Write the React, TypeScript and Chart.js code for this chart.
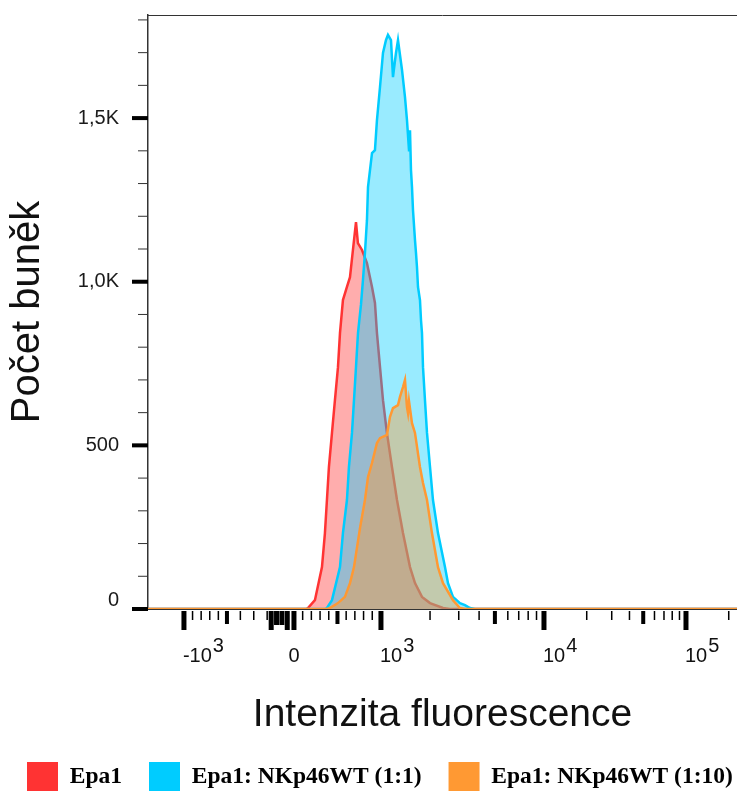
import React, { useEffect, useRef } from 'react';
import { Chart, registerables, LinearScale } from 'chart.js';

// ---------- data (fluorescence intensity vs. cell count) ----------
const RED_X = [138, 161, 241, 322, 356, 379, 402, 437, 471, 506, 529, 563, 609, 644, 678, 713, 735, 782, 839, 897, 931, 954, 989, 1029, 1088, 1168, 1254, 1365, 1507, 1617, 1785, 1999, 2402, 2650];
const RED_Y = [0, 3, 27, 128, 232, 333, 434, 538, 638, 739, 843, 944, 984, 1014, 1097, 1182, 1118, 1097, 1057, 984, 935, 843, 739, 638, 538, 434, 333, 232, 128, 79, 37, 18, 3, 0];

const BLUE_X = [356, 379, 437, 529, 563, 609, 632, 667, 690, 713, 736, 770, 793, 816, 839, 851, 897, 931, 954, 989, 1029, 1073, 1104, 1152, 1185, 1236, 1272, 1346, 1404, 1444, 1486, 1507, 1528, 1550, 1572, 1617, 1640, 1663, 1687, 1735, 1760, 1785, 1811, 1862, 1916, 1999, 2085, 2238, 2470, 2578, 2766, 3050, 3276, 3515, 3770];
const BLUE_Y = [0, 3, 27, 128, 232, 333, 434, 538, 638, 739, 843, 929, 1005, 1088, 1188, 1289, 1393, 1402, 1494, 1595, 1699, 1738, 1754, 1738, 1625, 1699, 1738, 1647, 1564, 1494, 1402, 1463, 1341, 1289, 1219, 1127, 1088, 1045, 984, 944, 883, 843, 739, 638, 538, 434, 333, 232, 128, 79, 37, 18, 12, 3, 0];

const ORANGE_X = [379, 414, 506, 586, 644, 690, 759, 816, 851, 897, 954, 989, 1088, 1136, 1185, 1272, 1308, 1365, 1404, 1444, 1465, 1486, 1550, 1617, 1735, 1811, 1916, 2055, 2238, 2402, 2766, 3050, 3276];
const ORANGE_Y = [0, 3, 18, 37, 79, 128, 247, 333, 403, 446, 507, 522, 532, 587, 614, 623, 648, 678, 700, 617, 599, 635, 568, 538, 434, 385, 333, 232, 128, 79, 27, 3, 0];

const SERIES_NAMES = ['Epa1', 'Epa1: NKp46WT (1:1)', 'Epa1: NKp46WT (1:10)'];

// axis ranges and ticks
const X_MIN = -1418;
const X_MAX = 228700;
const Y_MAX = 1815;
const Y_TICK_VALUES = [0, 100, 200, 300, 400, 500, 600, 700, 800, 900, 1000, 1100, 1200, 1300, 1400, 1500, 1600, 1700, 1800];
const Y_LABELS: Record<number, string> = { 0: '0', 500: '500', 1000: '1,0K', 1500: '1,5K' };
const X_MAJOR = [-1000, 0, 1000, 10000, 100000];
const X_MEDIUM = [-500, 500, 5000, 50000];
const X_MINOR = [-900, -800, -700, -600, -400, -300, -200, 100, 200, 300, 400, 600, 700, 800, 900, 2000, 3000, 4000, 6000, 7000, 8000, 9000, 20000, 30000, 40000, 60000, 70000, 80000, 90000, 200000];
const X_CLUSTER_LONG = [-170, -50];
const X_CLUSTER_MED = [-130, -90];
const X_LABELS: { v: number; base: string; exp: string }[] = [
  { v: -1000, base: '-10', exp: '3' },
  { v: 0, base: '0', exp: '' },
  { v: 1000, base: '10', exp: '3' },
  { v: 10000, base: '10', exp: '4' },
  { v: 100000, base: '10', exp: '5' },
];

// ---------- logicle-like display transform ----------
function T(v: number): number {
  if (v >= 10000) return 250 + 142 * Math.log10(v / 10000);
  if (v >= 1000) return 87 + 163 * Math.log10(v / 1000);
  if (v >= 0) return v * 0.087;
  if (v >= -500) return v * 0.134;
  return -67 + (v + 500) * 0.086;
}

class LogicleScale extends LinearScale {
  static id = 'logicle';
  getPixelForValue(value: number) {
    const a = T(this.min), b = T(this.max);
    return this.getPixelForDecimal((T(value) - a) / (b - a));
  }
}

Chart.register(...registerables, LogicleScale);

const SANS = "'Liberation Sans', Arial, sans-serif";
const SERIF = "'Liberation Serif', 'Times New Roman', serif";

const pts = (xs: number[], ys: number[]) => [
  { x: X_MIN, y: 0 },
  ...xs.map((x, i) => ({ x, y: ys[i] })),
  { x: X_MAX, y: 0 },
];

const noScalePadding = (s: any) => {
  s.paddingTop = 0;
  s.paddingBottom = 0;
  s.paddingLeft = 0;
  s.paddingRight = 0;
};

const decor = {
  id: 'decor',
  afterDraw(chart: any) {
    const { ctx, chartArea } = chart;
    const xs = chart.scales.x;
    const ys = chart.scales.y;
    ctx.save();
    // top frame line
    ctx.strokeStyle = '#333';
    ctx.lineWidth = 1;
    ctx.beginPath();
    ctx.moveTo(chartArea.left, chartArea.top + 0.5);
    ctx.lineTo(chartArea.right, chartArea.top + 0.5);
    ctx.stroke();
    // y tick marks
    for (const v of Y_TICK_VALUES) {
      const y = ys.getPixelForValue(v);
      if (Y_LABELS[v] !== undefined) {
        ctx.fillStyle = '#000';
        ctx.fillRect(chartArea.left - 16, y - 2, 16, 4);
      } else {
        ctx.fillStyle = '#333';
        ctx.fillRect(chartArea.left - 10, y - 0.5, 10, 1);
      }
    }
    // x tick marks
    ctx.fillStyle = '#000';
    const top = chartArea.bottom + 2;
    const tick = (v: number, w: number, len: number) => {
      const x = xs.getPixelForValue(v);
      ctx.fillRect(x - w / 2, top, w, len);
    };
    X_MAJOR.forEach((v) => tick(v, 5, 19));
    X_MEDIUM.forEach((v) => tick(v, 4, 13));
    X_MINOR.forEach((v) => tick(v, 1.5, 9));
    X_CLUSTER_LONG.forEach((v) => tick(v, 5, 19));
    X_CLUSTER_MED.forEach((v) => tick(v, 5, 14));
    // x tick labels
    ctx.fillStyle = '#111';
    ctx.font = `20px ${SANS}`;
    ctx.textBaseline = 'alphabetic';
    const baseY = chartArea.bottom + 53;
    for (const l of X_LABELS) {
      const x = xs.getPixelForValue(l.v);
      if (!l.exp) {
        ctx.textAlign = 'center';
        ctx.fillText(l.base, x, baseY);
      } else {
        ctx.textAlign = 'left';
        const sx = x - 1;
        ctx.fillText(l.base, sx, baseY);
        const w = ctx.measureText(l.base).width;
        ctx.fillText(l.exp, sx + w + 1, baseY - 10);
      }
    }
    // x axis title
    ctx.font = `39px ${SANS}`;
    ctx.textAlign = 'center';
    ctx.textBaseline = 'middle';
    ctx.fillText('Intenzita fluorescence', (chartArea.left + chartArea.right) / 2, chartArea.bottom + 106);
    ctx.restore();
  },
};

export default function App() {
  const ref = useRef<HTMLCanvasElement>(null);
  useEffect(() => {
    if (!ref.current) return;
    const chart = new Chart(ref.current, {
      type: 'line',
      data: {
        datasets: [
          {
            label: SERIES_NAMES[0],
            data: pts(RED_X, RED_Y),
            borderColor: '#FF3333',
            backgroundColor: 'rgba(255,51,51,0.4)',
            fill: 'origin',
            order: 3,
          },
          {
            label: SERIES_NAMES[1],
            data: pts(BLUE_X, BLUE_Y),
            borderColor: '#00CCFF',
            backgroundColor: 'rgba(0,204,255,0.4)',
            fill: 'origin',
            order: 2,
          },
          {
            label: SERIES_NAMES[2],
            data: pts(ORANGE_X, ORANGE_Y),
            borderColor: '#FF9933',
            backgroundColor: 'rgba(255,153,51,0.4)',
            fill: 'origin',
            order: 1,
          },
        ],
      },
      options: {
        responsive: false,
        animation: false,
        devicePixelRatio: 1,
        events: [],
        elements: {
          point: { radius: 0 },
          line: { borderWidth: 2.5, tension: 0 },
        },
        // negative right padding only widens the full-width legend row
        layout: { padding: { top: 15, right: -30, left: 0, bottom: -10 } },
        scales: {
          x: {
            type: 'logicle' as any,
            min: X_MIN,
            max: X_MAX,
            grid: { display: false, drawTicks: false },
            border: { display: true, color: '#333', width: 1 },
            ticks: { display: false },
            title: { display: false },
            afterFit: (s: any) => {
              s.height = 126;
              noScalePadding(s);
            },
          },
          y: {
            type: 'linear',
            min: 0,
            max: Y_MAX,
            grid: { display: false, drawTicks: false },
            border: { display: true, color: '#333', width: 1.5 },
            afterBuildTicks: (s: any) => {
              s.ticks = Y_TICK_VALUES.map((value) => ({ value }));
            },
            ticks: {
              autoSkip: false,
              padding: 29,
              color: '#1a1a1a',
              font: { family: SANS, size: 20, lineHeight: 0.9 },
              callback: (value: any) => {
                const lab = Y_LABELS[value as number];
                if (lab === undefined) return '';
                return value === 0 ? [lab, ''] : lab;
              },
            },
            title: {
              display: true,
              text: 'Počet buněk',
              color: '#111',
              font: { family: SANS, size: 40, lineHeight: 1 },
              padding: { top: 8, bottom: 0 },
            },
            afterFit: (s: any) => {
              s.width = 148;
              noScalePadding(s);
            },
          },
        },
        plugins: {
          tooltip: { enabled: false },
          legend: {
            position: 'bottom',
            align: 'start',
            labels: {
              boxWidth: 31,
              boxHeight: 29,
              padding: 27,
              color: '#000',
              font: { family: SERIF, size: 23.5, weight: 'bold' },
              sort: (a: any, b: any) => a.datasetIndex - b.datasetIndex,
              generateLabels: (ch: any) =>
                (Chart.defaults.plugins.legend.labels as any).generateLabels(ch).map((l: any) => ({
                  ...l,
                  fillStyle: ch.data.datasets[l.datasetIndex].borderColor,
                  strokeStyle: 'rgba(0,0,0,0)',
                  lineWidth: 0,
                })),
            },
          },
        },
      },
      plugins: [decor],
    } as any);
    return () => chart.destroy();
  }, []);
  return (
    <div style={{ position: 'fixed', left: 0, top: 0, width: 737, height: 791, background: '#fff' }}>
      <canvas ref={ref} width={737} height={791} style={{ display: 'block' }} />
    </div>
  );
}
